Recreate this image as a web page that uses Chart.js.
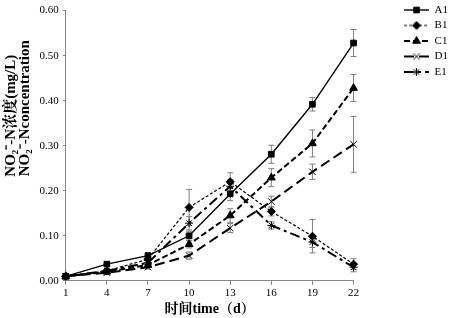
<!DOCTYPE html>
<html lang="en">
<head>
    <meta charset="UTF-8">
    <title>NO2- -N concentration</title>
    <script src="https://cdn.jsdelivr.net/npm/chart.js"></script>
    <style>
        html, body { margin: 0; padding: 0; background: #fff; }
        #wrap { width: 452px; height: 318px; }
    </style>
</head>
<body>
    <div id="wrap"><canvas id="no2Chart"></canvas></div>

    <script>
        const days = ['1', '4', '7', '10', '13', '16', '19', '22'];

        const a1 = [0.010, 0.037, 0.056, 0.100, 0.193, 0.281, 0.392, 0.528];
        const b1 = [0.010, 0.022, 0.048, 0.163, 0.220, 0.154, 0.099, 0.037];
        const c1 = [0.010, 0.020, 0.035, 0.081, 0.145, 0.229, 0.305, 0.428];
        const d1 = [0.010, 0.018, 0.030, 0.056, 0.117, 0.176, 0.242, 0.303];
        const e1 = [0.010, 0.022, 0.040, 0.128, 0.210, 0.123, 0.086, 0.030];

        // error bar half widths (+/-)
        const a1Err = [0.002, 0.003, 0.004, 0.010, 0.015, 0.020, 0.015, 0.030];
        const b1Err = [0.002, 0.003, 0.004, 0.040, 0.020, 0.010, 0.037, 0.012];
        const c1Err = [0.002, 0.003, 0.004, 0.008, 0.015, 0.020, 0.030, 0.030];
        const d1Err = [0.002, 0.003, 0.004, 0.008, 0.010, 0.012, 0.017, 0.062];
        const e1Err = [0.002, 0.003, 0.004, 0.015, 0.015, 0.008, 0.012, 0.010];

        const serif = "'Times New Roman', 'Liberation Serif', 'Noto Serif CJK SC', 'Noto Sans CJK SC', serif";
        const axisGrey = '#868686';
        const iconW = 71;

        // small picture of line + marker for each legend row
        function legendIcon(dash, width, style, radius) {
            const c = document.createElement('canvas');
            c.width = iconW; c.height = 12;
            const g = c.getContext('2d');
            g.strokeStyle = '#000';
            g.fillStyle = '#000';
            g.lineWidth = width;
            g.setLineDash(dash);
            g.beginPath();
            g.moveTo(iconW - 25, 6); g.lineTo(iconW, 6);
            g.stroke();
            g.setLineDash([]);
            g.lineWidth = 1;
            Chart.helpers.drawPoint(g, {pointStyle: style, radius: radius, borderWidth: 1}, iconW - 12.5, 6);
            return c;
        }

        const errorBars = {
            id: 'errorBars',
            beforeDatasetsDraw(chart) {
                const ctx = chart.ctx;
                const y = chart.scales.y;
                ctx.save();
                ctx.strokeStyle = '#7f7f7f';
                ctx.lineWidth = 1;
                chart.data.datasets.forEach((ds, i) => {
                    const meta = chart.getDatasetMeta(i);
                    meta.data.forEach((pt, j) => {
                        const e = ds.err[j];
                        const top = y.getPixelForValue(ds.data[j] + e);
                        const bot = y.getPixelForValue(ds.data[j] - e);
                        ctx.beginPath();
                        ctx.moveTo(pt.x, top); ctx.lineTo(pt.x, bot);
                        ctx.moveTo(pt.x - 3, top); ctx.lineTo(pt.x + 3, top);
                        ctx.moveTo(pt.x - 3, bot); ctx.lineTo(pt.x + 3, bot);
                        ctx.stroke();
                    });
                });
                ctx.restore();
            }
        };

        function series(label, data, err, dash, width, style, radius) {
            return {
                label: label,
                data: data,
                err: err,
                borderColor: '#000',
                backgroundColor: '#000',
                borderWidth: width,
                borderDash: dash,
                pointStyle: style,
                pointRadius: radius,
                pointBorderWidth: 1,
                pointBorderColor: '#000',
                pointBackgroundColor: '#000',
                tension: 0,
                fill: false,
                icon: legendIcon(dash, width, style, radius)
            };
        }

        new Chart(document.getElementById('no2Chart'), {
            type: 'line',
            data: {
                labels: days,
                datasets: [
                    series('A1', a1, a1Err, [], 1.4, 'rect', 4),
                    series('B1', b1, b1Err, [3, 2], 1.2, 'rectRot', 4),
                    series('C1', c1, c1Err, [6, 3], 2, 'triangle', 4.5),
                    series('D1', d1, d1Err, [10, 5], 2, 'crossRot', 4.5),
                    series('E1', e1, e1Err, [10, 4, 3, 4], 2, 'star', 4)
                ]
            },
            options: {
                responsive: true,
                maintainAspectRatio: false,
                animation: false,
                layout: { padding: { top: 0, right: -6, bottom: 0, left: 2 } },
                plugins: {
                    tooltip: { enabled: false },
                    legend: {
                        position: 'right',
                        align: 'start',
                        labels: {
                            usePointStyle: true,
                            pointStyleWidth: iconW,
                            padding: 4.5,
                            color: '#000',
                            font: { family: serif, size: 11 },
                            generateLabels(chart) {
                                return chart.data.datasets.map((ds, i) => ({
                                    text: ds.label,
                                    pointStyle: ds.icon,
                                    fillStyle: '#000',
                                    strokeStyle: '#000',
                                    lineWidth: 0,
                                    hidden: false,
                                    datasetIndex: i
                                }));
                            }
                        }
                    }
                },
                scales: {
                    x: {
                        offset: false,
                        grid: { drawOnChartArea: false, color: axisGrey, tickLength: 4 },
                        border: { color: axisGrey, width: 1 },
                        ticks: { color: '#000', font: { family: serif, size: 11 }, maxRotation: 0, padding: 2 },
                        title: {
                            display: true,
                            text: '时间time（d）',
                            color: '#000',
                            font: { family: serif, size: 14, weight: 'bold', lineHeight: 1 },
                            padding: { top: 0, bottom: 2 }
                        }
                    },
                    y: {
                        min: 0,
                        max: 0.6,
                        grid: { drawOnChartArea: false, color: axisGrey, tickLength: 3 },
                        border: { color: axisGrey, width: 1 },
                        ticks: {
                            stepSize: 0.1,
                            color: '#000',
                            font: { family: serif, size: 11 },
                            padding: 4,
                            callback: v => v.toFixed(2)
                        },
                        title: {
                            display: true,
                            text: ['\u3000\u3000\u3000\u3000NO₂⁻-N浓度(mg/L)', '\u3000\u3000\u3000\u3000\u3000NO₂⁻-Nconcentration'],
                            color: '#000',
                            font: { family: serif, size: 15, weight: 'bold', lineHeight: 0.95 },
                            padding: { top: 2, bottom: 3 }
                        }
                    }
                }
            },
            plugins: [errorBars]
        });
    </script>
</body>
</html>
